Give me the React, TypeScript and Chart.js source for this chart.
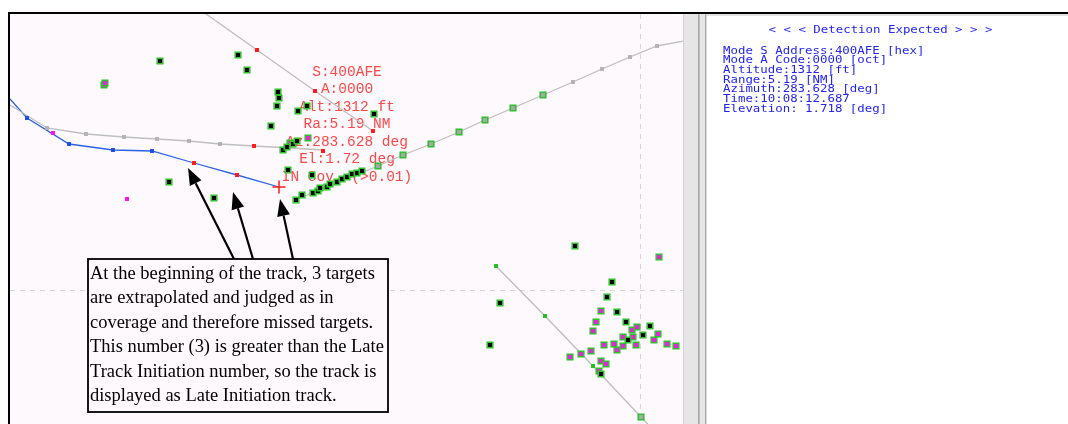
import React, { useEffect, useRef } from "react";
import { Chart, registerables } from "chart.js";

Chart.register(...registerables);

type P = [number, number];

// ---- data (display coordinates of the radar view) ----
const trackNorth: P[] = [[199, 9], [257, 50], [315, 91], [373, 131]];
const trackWest: P[] = [[10, 105], [47, 128], [86, 134], [124, 137], [157, 139], [189, 141], [220, 144], [254, 146], [290, 148], [323, 150]];
const trackBlue: P[] = [[10, 99], [27, 118], [69, 144], [113, 150], [152, 151], [194, 163], [237, 175], [279, 187]];
const trackEast: P[] = [[295, 200], [378, 166], [403, 155], [431, 144], [459, 132], [485, 120], [513, 108], [543, 95], [573, 82], [602, 69], [630, 57], [657, 46], [700, 38]];
const trackSouth: P[] = [[496, 266], [545, 316], [593, 366], [641, 417], [660, 437]];

const redPlots: P[] = [[257, 50], [315, 91], [373, 131], [254, 146], [323, 151], [194, 163], [237, 175]];
const bluePlots: P[] = [[27, 118], [69, 144], [113, 150], [152, 151]];
const greyPlots: P[] = [[47, 128], [86, 134], [124, 137], [157, 139], [189, 141], [220, 144], [573, 82], [602, 69], [630, 57], [657, 46]];
const greyGreenPlots: P[] = [[378, 166], [403, 155], [431, 144], [459, 132], [485, 120], [513, 108], [543, 95], [641, 417]];
const smallGreenPlots: P[] = [[496, 266], [545, 316], [593, 366]];
const magentaPlots: P[] = [[53, 133], [127, 199]];
const blackPlots: P[] = [
  [160, 61], [238, 55], [247, 70], [278, 92], [279, 98], [277, 106], [298, 111], [307, 106], [374, 114], [271, 126],
  [169, 182], [214, 198], [288, 170], [312, 175],
  [283, 150], [287, 147], [293, 144], [297, 141],
  [296, 200], [302, 195], [313, 193], [318, 191], [320, 188], [327, 187], [330, 184], [337, 182], [342, 179], [347, 177], [352, 174], [357, 173], [362, 171],
  [575, 246], [612, 282], [607, 297], [500, 303], [617, 312], [626, 322], [650, 326], [628, 340], [643, 335], [490, 345], [601, 374],
];
const pinkPlots: P[] = [
  [104, 85], [105, 83], [308, 138], [290, 143],
  [659, 257], [601, 311], [596, 322], [593, 331], [632, 330], [637, 327], [623, 337], [633, 337], [658, 334], [654, 340],
  [604, 345], [614, 344], [623, 346], [636, 345], [667, 344], [676, 346], [617, 350], [591, 351], [581, 354], [570, 357],
  [601, 361], [606, 364], [599, 371],
];
const currentTarget: P[] = [[279, 187]];

const gridX = [640];
const gridY = [290];

const labelAnchor: P = [347, 72];
const labelLines = ["S:400AFE", "A:0000", "Alt:1312 ft", "Ra:5.19 NM", "Az:283.628 deg", "El:1.72 deg", "IN Cov. (>0.01)"];

const panelTitle = "< < < Detection Expected > > >";
const panelLines = [
  "Mode S Address:400AFE [hex]",
  "Mode A Code:0000 [oct]",
  "Altitude:1312 [ft]",
  "Range:5.19 [NM]",
  "Azimuth:283.628 [deg]",
  "Time:10:08:12.687",
  "Elevation: 1.718 [deg]",
];

const noteLines = [
  "At the beginning of the track, 3 targets",
  "are extrapolated and judged as in",
  "coverage and therefore missed targets.",
  "This number (3) is greater than the Late",
  "Track Initiation number, so the track is",
  "displayed as Late Initiation track.",
];
// arrows: [tailX, tailY, tipX, tipY] in view coordinates
const arrows: [number, number, number, number][] = [
  [234, 259, 188, 168],
  [253, 259, 233, 192],
  [293, 259, 280, 199],
];
const noteBox = { x1: 88, y1: 259, x2: 388, y2: 412 };

const PLOT_BG = "#FEF9FD";
const GREEN = "#2FBF2F";

const toXY = (a: P[]) => a.map(([x, y]) => ({ x, y }));

const lineDs = (data: P[], color: string) => ({
  type: "scatter" as const,
  data: toXY(data),
  showLine: true,
  borderColor: color,
  borderWidth: 1.3,
  pointRadius: 0,
  clip: 0,
  order: 10,
});
const dotDs = (data: P[], fill: string, r = 2.8, border = 0, borderColor = fill, order = 5) => ({
  type: "scatter" as const,
  data: toXY(data),
  pointStyle: "rect",
  pointRadius: r,
  pointBackgroundColor: fill,
  pointBorderColor: borderColor,
  pointBorderWidth: border,
  order,
});

const frame = {
  id: "frame",
  beforeDraw(chart: any) {
    const { ctx, chartArea: a, width, height } = chart;
    ctx.save();
    ctx.fillStyle = "#FFFFFF";
    ctx.fillRect(0, 0, width, height);
    ctx.fillStyle = PLOT_BG;
    ctx.fillRect(a.left, a.top, a.right - a.left, height - a.top);
    // scrollbar / splitter
    ctx.fillStyle = "#D2D2D2";
    ctx.fillRect(a.right, a.top, 1.5, height - a.top);
    ctx.fillStyle = "#E6E6E6";
    ctx.fillRect(a.right + 1.5, a.top, 22, height - a.top);
    ctx.fillStyle = "#A6A6A6";
    ctx.fillRect(698, a.top, 1.6, height - a.top);
    ctx.fillRect(705, a.top, 1.6, height - a.top);
    ctx.fillStyle = "#FFFFFF";
    ctx.fillRect(706.6, a.top, width - 706.6, height - a.top);
    ctx.fillStyle = "#C8C8C8";
    ctx.fillRect(706.6, 14.5, width - 706.6, 1);
    // black frame
    ctx.fillStyle = "#000000";
    ctx.fillRect(8, 12, width - 8, 2);
    ctx.fillRect(8, 12, 2, height - 12);
    // dashed grid
    const xs = chart.scales.x, ys = chart.scales.y;
    ctx.strokeStyle = "#D6D6D6";
    ctx.lineWidth = 1;
    ctx.setLineDash([5, 5]);
    gridX.forEach((v) => {
      const px = Math.round(xs.getPixelForValue(v)) + 0.5;
      ctx.beginPath(); ctx.moveTo(px, a.top); ctx.lineTo(px, a.bottom); ctx.stroke();
    });
    gridY.forEach((v) => {
      const py = Math.round(ys.getPixelForValue(v)) + 0.5;
      ctx.beginPath(); ctx.moveTo(a.left, py); ctx.lineTo(a.right, py); ctx.stroke();
    });
    ctx.setLineDash([]);
    // right panel text
    ctx.fillStyle = "#2424F0";
    ctx.textBaseline = "middle";
    ctx.font = "10.5px 'DejaVu Sans Mono'";
    const sx = 1.18;
    ctx.save();
    ctx.translate(880.5, 30);
    ctx.scale(sx, 1);
    ctx.textAlign = "center";
    ctx.fillText(panelTitle, 0, 0);
    ctx.restore();
    panelLines.forEach((t, i) => {
      ctx.save();
      ctx.translate(723, 50.8 + i * 9.7);
      ctx.scale(sx, 1);
      ctx.textAlign = "left";
      ctx.fillText(t, 0, 0);
      ctx.restore();
    });
    ctx.restore();
  },
  beforeDatasetsDraw(chart: any) {
    const { ctx } = chart;
    const xs = chart.scales.x, ys = chart.scales.y;
    const cx = xs.getPixelForValue(labelAnchor[0]);
    const cy = ys.getPixelForValue(labelAnchor[1]);
    ctx.save();
    ctx.fillStyle = "#FF4848";
    ctx.font = "14.5px 'Liberation Mono'";
    ctx.textAlign = "center";
    ctx.textBaseline = "middle";
    labelLines.forEach((t, i) => ctx.fillText(t, cx, cy + i * 17.5));
    ctx.restore();
  },
  afterDraw(chart: any) {
    const { ctx } = chart;
    const xs = chart.scales.x, ys = chart.scales.y;
    const X = (v: number) => xs.getPixelForValue(v);
    const Y = (v: number) => ys.getPixelForValue(v);
    ctx.save();
    // arrows
    arrows.forEach(([tx, ty, hx, hy]) => {
      const x0 = X(tx), y0 = Y(ty), x1 = X(hx), y1 = Y(hy);
      const ang = Math.atan2(y1 - y0, x1 - x0);
      const L = 17, W = 6.5;
      const bx = x1 - Math.cos(ang) * L, by = y1 - Math.sin(ang) * L;
      ctx.strokeStyle = "#000";
      ctx.lineWidth = 2.2;
      ctx.beginPath(); ctx.moveTo(x0, y0); ctx.lineTo(bx, by); ctx.stroke();
      ctx.fillStyle = "#000";
      ctx.beginPath();
      ctx.moveTo(x1, y1);
      ctx.lineTo(bx + Math.sin(ang) * W, by - Math.cos(ang) * W);
      ctx.lineTo(bx - Math.sin(ang) * W, by + Math.cos(ang) * W);
      ctx.closePath(); ctx.fill();
    });
    // note box
    const bx1 = X(noteBox.x1), by1 = Y(noteBox.y1), bx2 = X(noteBox.x2), by2 = Y(noteBox.y2);
    ctx.fillStyle = PLOT_BG;
    ctx.fillRect(bx1, by1, bx2 - bx1, by2 - by1);
    ctx.strokeStyle = "#000";
    ctx.lineWidth = 1.8;
    ctx.strokeRect(bx1, by1, bx2 - bx1, by2 - by1);
    ctx.fillStyle = "#000";
    ctx.font = "100px 'Liberation Serif'";
    const w = ctx.measureText(noteLines[3]).width;
    const size = (100 * 294) / w;
    ctx.font = `${size}px 'Liberation Serif'`;
    ctx.textAlign = "left";
    ctx.textBaseline = "alphabetic";
    noteLines.forEach((t, i) => ctx.fillText(t, bx1 + 2, by1 + 20 + i * 24.4));
    ctx.restore();
  },
};

export default function App() {
  const ref = useRef<HTMLCanvasElement | null>(null);
  useEffect(() => {
    document.body.style.margin = "0";
    if (!ref.current) return;
    const chart = new Chart(ref.current, {
      type: "scatter",
      data: {
        datasets: [
          lineDs(trackNorth, "#BEBEBE"),
          lineDs(trackWest, "#BEBEBE"),
          lineDs(trackEast, "#BEBEBE"),
          lineDs(trackSouth, "#BEBEBE"),
          lineDs(trackBlue, "#2A62E6"),
          dotDs(greyPlots, "#B4B4B4"),
          dotDs(bluePlots, "#1E50E0"),
          dotDs(redPlots, "#FF1A1A"),
          dotDs(smallGreenPlots, "#22C022"),
          dotDs(magentaPlots, "#FF10F0"),
          dotDs(greyGreenPlots, "#A8A8A8", 3.9, 1.6, GREEN, 4),
          dotDs(pinkPlots, "#F01CE8", 3.9, 1.6, GREEN, 3),
          dotDs(blackPlots, "#000000", 3.9, 1.6, GREEN, 2),
          {
            type: "scatter" as const,
            data: toXY(currentTarget),
            pointStyle: "cross",
            pointRadius: 6.5,
            pointBorderColor: "#FF1A1A",
            pointBorderWidth: 1.5,
            order: 0,
          },
        ] as any,
      },
      options: {
        responsive: false,
        maintainAspectRatio: false,
        animation: false,
        events: [],
        layout: { autoPadding: false, padding: { left: 10, top: 14, right: 385, bottom: 0 } },
        plugins: { legend: { display: false }, tooltip: { enabled: false } },
        scales: {
          x: { type: "linear", min: 10, max: 683, display: false },
          y: { type: "linear", min: 14, max: 424, reverse: true, display: false },
        },
      } as any,
      plugins: [frame],
    });
    return () => chart.destroy();
  }, []);
  return (
    <div style={{ width: 1068, height: 424 }}>
      <canvas ref={ref} width={1068} height={424} style={{ display: "block" }} />
    </div>
  );
}
